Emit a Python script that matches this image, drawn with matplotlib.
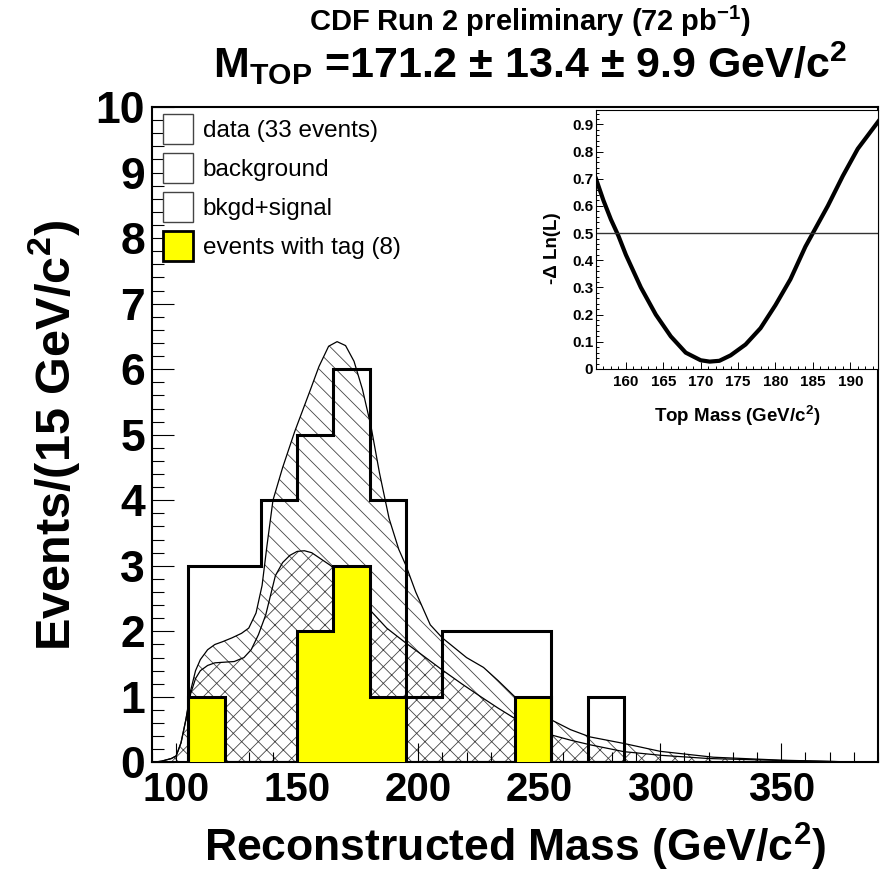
import numpy as np
import matplotlib.pyplot as plt
from matplotlib.patches import Patch
from matplotlib.ticker import MultipleLocator, FuncFormatter

plt.rcParams['font.family'] = ['Liberation Sans', 'DejaVu Sans']
plt.rcParams['mathtext.default'] = 'regular'
plt.rcParams['hatch.linewidth'] = 0.6

# histogram bins (15 GeV wide)
bin_edges = np.arange(105, 300, 15)
data_counts = [3, 3, 4, 5, 6, 4, 1, 2, 2, 2, 0, 1]
tag_counts = [1, 0, 0, 2, 3, 1, 0, 0, 0, 1, 0, 0]

# fitted shape bkgd+signal
sig_x = [90, 94, 98, 100, 102, 104, 106, 108, 110, 113, 116, 119, 123, 127, 130, 133,
         135.5, 137.5, 140, 144, 149, 155, 159, 163, 166.5, 170, 173.5, 177, 180.5, 184,
         188, 192, 195, 199, 205, 210, 220, 227, 233, 240, 247, 255, 263, 271, 285, 300,
         322, 350, 377, 390]
sig_y = [0.0, 0.02, 0.06, 0.1, 0.3, 0.65, 1.1, 1.4, 1.57, 1.72, 1.8, 1.84, 1.9, 1.97, 2.05, 2.28,
         2.7, 3.3, 4.0, 4.5, 5.05, 5.64, 6.04, 6.35, 6.42, 6.36, 6.12, 5.69, 5.13, 4.42,
         3.72, 3.25, 3.0, 2.6, 2.1, 1.9, 1.6, 1.45, 1.25, 1.0, 0.84, 0.65, 0.5, 0.39, 0.29, 0.17,
         0.08, 0.035, 0.01, 0.005]

# background shape
bkg_x = [90, 94, 98, 100, 102, 104, 106, 108, 110, 113, 116, 120, 124, 128, 131, 134, 137,
         139, 141, 144, 147, 150, 153, 156, 160, 164, 170, 175, 180, 187, 195, 202, 210, 218,
         226, 233, 240, 247, 255, 263, 271, 285, 300, 320, 350, 377, 390]
bkg_y = [0.0, 0.02, 0.06, 0.1, 0.3, 0.65, 1.05, 1.28, 1.4, 1.48, 1.52, 1.53, 1.54, 1.6, 1.72, 1.95, 2.25,
         2.55, 2.85, 3.05, 3.16, 3.22, 3.23, 3.2, 3.1, 3.0, 2.75, 2.55, 2.33, 2.05, 1.82, 1.63, 1.41, 1.2,
         1.0, 0.83, 0.67, 0.55, 0.42, 0.34, 0.27, 0.165, 0.11, 0.06, 0.03, 0.01, 0.005]

# -delta log likelihood vs top mass
lik_x = [156, 157, 158, 159, 160, 162, 164, 166, 168, 170, 171.2, 172.5, 174, 176, 178,
         180, 182, 184, 185, 187, 189, 191, 194]
lik_y = [0.70, 0.62, 0.55, 0.49, 0.42, 0.30, 0.20, 0.12, 0.06, 0.032, 0.027, 0.03, 0.05, 0.09, 0.15,
         0.235, 0.33, 0.45, 0.5, 0.60, 0.71, 0.81, 0.92]

labels = ['data (33 events)', 'background', 'bkgd+signal', 'events with tag (8)']

fig = plt.figure(figsize=(8.82, 8.77), dpi=100)
ax = fig.add_axes([0.1723, 0.1306, 0.8231, 0.7474])

ax.fill_between(sig_x, 0, sig_y, facecolor='white', edgecolor='#444444', hatch='\\\\', lw=0, zorder=1)
ax.fill_between(bkg_x, 0, bkg_y, facecolor='white', edgecolor='#444444', hatch='xx', lw=0, zorder=1.1)
ax.plot(sig_x, sig_y, color='black', lw=0.9, zorder=1.2)
ax.plot(bkg_x, bkg_y, color='black', lw=0.9, zorder=1.2)
ax.stairs(tag_counts, bin_edges, fill=True, facecolor='yellow', edgecolor='black', lw=2.2, zorder=3)
ax.stairs(data_counts, bin_edges, color='black', lw=2.2, zorder=4)

ax.set_xlim(90, 390)
ax.set_ylim(0, 10)
ax.xaxis.set_major_locator(MultipleLocator(50))
ax.xaxis.set_minor_locator(MultipleLocator(10))
ax.yaxis.set_major_locator(MultipleLocator(1))
ax.yaxis.set_minor_locator(MultipleLocator(0.2))
ax.tick_params(which='both', direction='in', top=False, right=False, width=0.8)
ax.tick_params(axis='y', which='major', length=16, pad=5, labelsize=32)
ax.tick_params(axis='y', which='minor', length=8.5)
ax.tick_params(axis='x', which='major', length=14, pad=6, labelsize=29)
ax.tick_params(axis='x', which='minor', length=7)
for lab in ax.get_xticklabels() + ax.get_yticklabels():
    lab.set_fontweight('bold')
for sp in ax.spines.values():
    sp.set_linewidth(1.5)

handles = [Patch(facecolor='white', edgecolor='#444444', lw=1),
           Patch(facecolor='white', edgecolor='#444444', lw=1),
           Patch(facecolor='white', edgecolor='#444444', lw=1),
           Patch(facecolor='yellow', edgecolor='black', lw=2)]
ax.legend(handles, labels, loc='upper left', bbox_to_anchor=(0.015, 0.989), frameon=False,
          fontsize=17.5, handlelength=1.22, handleheight=1.53, handletextpad=0.42,
          labelspacing=0.36, borderpad=0, borderaxespad=0)

fig.text(0.584, 1 - 862 / 877, 'Reconstructed Mass (GeV/c$^{2}$)', ha='center', va='baseline',
         fontsize=32, fontweight='bold')
fig.text(70 / 882, 1 - 435 / 877, 'Events/(15 GeV/c$^{2}$)', ha='center', va='baseline',
         rotation=90, rotation_mode='anchor', fontsize=35, fontweight='bold')

narrow = ['Liberation Sans Narrow', 'Liberation Sans']
fig.text(0.601, 1 - 31 / 877, 'CDF Run 2 preliminary (72 pb$^{-1}$)', ha='center', va='baseline',
         fontsize=21, fontweight='bold', family=narrow)
fig.text(0.601, 1 - 78 / 877, 'M$_{TOP}$ =171.2 ± 13.4 ± 9.9 GeV/c$^{2}$', ha='center', va='baseline',
         fontsize=31, fontweight='bold', family=narrow)

# inset with the likelihood
ins = fig.add_axes([0.6757, 0.5793, 0.3197, 0.2953])
ins.plot(lik_x, lik_y, color='black', lw=3)
ins.axhline(0.5, color='#333333', lw=1)
ins.set_xlim(156, 193.7)
ins.set_ylim(0, 0.953)
ins.xaxis.set_major_locator(MultipleLocator(5))
ins.xaxis.set_minor_locator(MultipleLocator(1))
ins.yaxis.set_major_locator(MultipleLocator(0.1))
ins.yaxis.set_minor_locator(MultipleLocator(0.02))
ins.yaxis.set_major_formatter(FuncFormatter(lambda v, p: '0' if abs(v) < 1e-9 else '%.1f' % v))
ins.tick_params(which='both', direction='in', top=False, right=False, width=0.7, labelsize=11)
ins.tick_params(which='major', length=5)
ins.tick_params(which='minor', length=2.5)
ins.tick_params(axis='x', pad=4)
ins.tick_params(axis='y', pad=2)
for lab in ins.get_xticklabels() + ins.get_yticklabels():
    lab.set_fontweight('bold')
ins.set_xlabel('Top Mass (GeV/c$^{2}$)', fontsize=13.5, fontweight='bold')
ins.set_ylabel('-Δ Ln(L)', fontsize=13.5, fontweight='bold')
ins.xaxis.set_label_coords(0.5, -0.135)
ins.yaxis.set_label_coords(-0.124, 0.467)

fig.savefig('out.png', dpi=100)
